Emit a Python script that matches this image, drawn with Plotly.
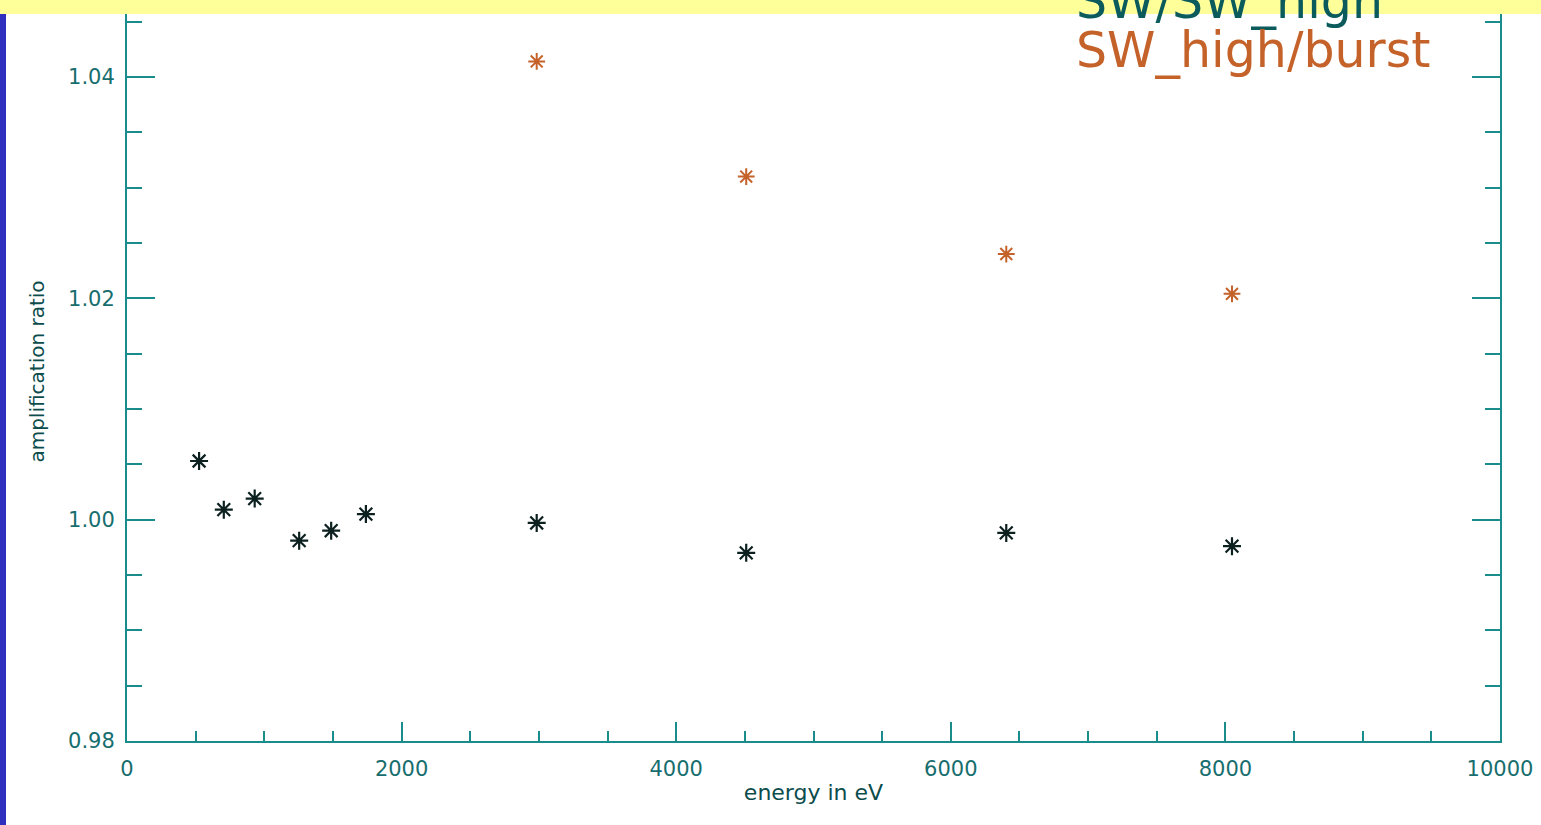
import plotly.graph_objects as go

energy_low = [525, 705, 930, 1254, 1487, 1740, 2984, 4510, 6404, 8048]
ratio_sw = [1.0053, 1.0009, 1.0019, 0.9981, 0.9990, 1.0005, 0.9997, 0.9970, 0.9988, 0.9976]
energy_high = [2984, 4510, 6404, 8048]
ratio_burst = [1.0414, 1.0310, 1.0240, 1.0204]

W, H = 1541, 825
L, R, B, T = 127, 41, 84, 0
pw, ph = W - L - R, H - B - T

def px2paper_x(px):
    return (px - L) / pw

def px2paper_y(py):
    return (H - B - py) / ph

axis_col = "#1a8c8c"
text_col = "#176e6e"
title_col = "#0d4c4c"
font_fam = "DejaVu Sans, Verdana, sans-serif"

fig = go.Figure()
fig.add_trace(go.Scatter(
    x=energy_low, y=ratio_sw, mode="markers", name="SW/SW_high",
    marker=dict(symbol="asterisk-open", size=15, color="#0c2020",
                line=dict(width=2.2, color="#0c2020")),
))
fig.add_trace(go.Scatter(
    x=energy_high, y=ratio_burst, mode="markers", name="SW_high/burst",
    marker=dict(symbol="asterisk-open", size=14, color="#c4622a",
                line=dict(width=2.0, color="#c4622a")),
))

fig.update_layout(
    width=W, height=H,
    margin=dict(l=L, r=R, b=B, t=T, pad=0),
    paper_bgcolor="white", plot_bgcolor="white",
    showlegend=False,
    font=dict(family=font_fam, color=text_col, size=15),
    xaxis=dict(
        range=[0, 10000], tickvals=[0, 2000, 4000, 6000, 8000, 10000],
        ticktext=["0", "2000", "4000", "6000", "8000", "10000"],
        ticks="inside", ticklen=19, tickwidth=2, tickcolor=axis_col,
        minor=dict(dtick=500, ticks="inside", ticklen=10, tickwidth=2, tickcolor=axis_col),
        showline=True, linecolor=axis_col, linewidth=2, mirror=True,
        showgrid=False, zeroline=False,
        ticklabelstandoff=8,
        tickfont=dict(size=21, color=text_col, family=font_fam),
        title=dict(text="energy in eV", font=dict(size=22, color=title_col, family=font_fam), standoff=4),
    ),
    yaxis=dict(
        range=[0.98, 1.04 + 75 / 221.5 * 0.02], tickvals=[0.98, 1.00, 1.02, 1.04],
        ticktext=["0.98", "1.00", "1.02", "1.04"],
        ticks="inside", ticklen=28, tickwidth=2, tickcolor=axis_col,
        minor=dict(dtick=0.005, ticks="inside", ticklen=15, tickwidth=2, tickcolor=axis_col),
        showline=True, linecolor=axis_col, linewidth=2, mirror="ticks",
        showgrid=False, zeroline=False,
        ticklabelstandoff=6,
        tickfont=dict(size=21, color=text_col, family=font_fam),
        title=dict(text="amplification ratio", font=dict(size=20, color=title_col, family=font_fam), standoff=18),
    ),
)

fig.add_annotation(
    text="SW/SW_high", xref="paper", yref="paper",
    x=px2paper_x(1074), y=px2paper_y(-1), xanchor="left", yanchor="middle",
    showarrow=False, font=dict(size=49, color="#0b5a5c", family=font_fam),
)
fig.add_annotation(
    text="SW_high/burst", xref="paper", yref="paper",
    x=px2paper_x(1074), y=px2paper_y(49), xanchor="left", yanchor="middle",
    showarrow=False, font=dict(size=49, color="#c4622a", family=font_fam),
)

# decorative slide borders
fig.add_shape(type="rect", xref="paper", yref="paper",
              x0=px2paper_x(0), x1=px2paper_x(W), y0=px2paper_y(12), y1=px2paper_y(-5),
              fillcolor="#ffff99", line=dict(width=0), layer="above")
fig.add_shape(type="rect", xref="paper", yref="paper",
              x0=px2paper_x(-2), x1=px2paper_x(6), y0=px2paper_y(H + 5), y1=px2paper_y(12),
              fillcolor="#2f2fbf", line=dict(width=0), layer="above")

fig.write_html("out.html")
